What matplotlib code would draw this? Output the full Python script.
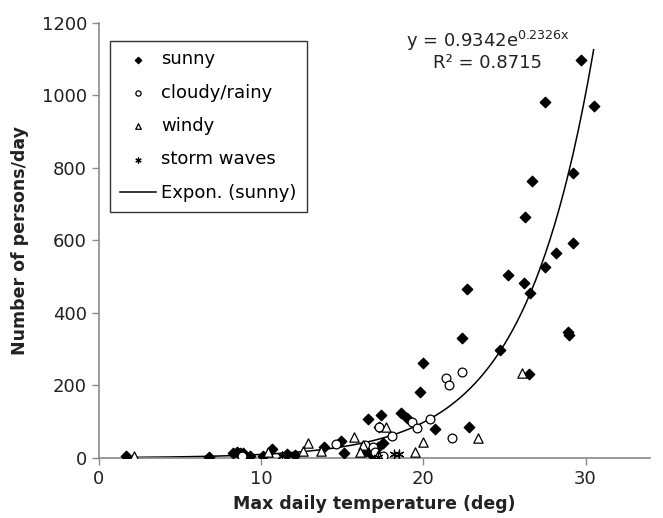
import numpy as np
import matplotlib
matplotlib.use("Agg")
import matplotlib.pyplot as plt

plt.rcParams['font.family'] = ['DejaVu Sans']
plt.rcParams['mathtext.fontset'] = 'dejavusans'

# sunny days
sunny_t = [1.7, 6.8, 8.3, 8.5, 8.7, 8.9, 9.3, 10.1, 10.7, 11.6, 12.1, 13.9, 14.9, 15.1,
           16.5, 16.8, 17.0, 17.2, 17.5, 16.6, 17.4, 17.3, 18.6, 19.0, 19.8, 20.0, 20.7,
           22.4, 22.7, 22.8, 24.7, 25.2, 26.2, 26.6, 26.3, 26.7, 26.5, 27.5, 28.2, 28.9,
           29.0, 29.2, 29.2, 27.5, 29.7, 30.5]
sunny_n = [5, 2, 14, 15, 14, 13, 5, 5, 25, 10, 8, 30, 46, 14,
           20, 10, 25, 30, 40, 107, 119, 85, 124, 110, 182, 262, 80,
           331, 466, 86, 298, 505, 483, 455, 665, 764, 232, 527, 566, 348,
           340, 593, 786, 982, 1098, 971]

# cloudy/rainy days
cloudy_t = [8.8, 14.6, 16.4, 16.9, 17.3, 18.1, 19.3, 19.6, 20.4, 21.4, 21.6, 22.4, 21.8, 17.0, 17.5]
cloudy_n = [5, 38, 36, 30, 85, 60, 100, 82, 107, 220, 200, 237, 55, 15, 5]

# windy days
windy_t = [2.2, 10.4, 11.3, 12.6, 12.9, 13.7, 15.7, 16.3, 17.7, 17.2, 19.5, 20.0, 23.4, 26.1, 16.1]
windy_n = [5, 17, 5, 20, 40, 20, 57, 36, 85, 8, 16, 45, 55, 234, 15]

# storm waves
storm_t = [11.3, 17.2, 18.2, 18.5]
storm_n = [5, 2, 10, 10]

fit_a = 0.9342
fit_b = 0.2326
fit_range = (1.7, 30.5)

fig = plt.figure(figsize=(6.63, 5.18), dpi=100)
ax = fig.add_axes([0.149, 0.116, 0.832, 0.84])

ax.scatter(sunny_t, sunny_n, marker='D', s=28, color='black', zorder=3, label='sunny')
ax.scatter(cloudy_t, cloudy_n, marker='o', s=40, facecolor='white', edgecolor='black',
           linewidth=0.9, zorder=3, label='cloudy/rainy')
ax.scatter(windy_t, windy_n, marker='^', s=45, facecolor='white', edgecolor='black',
           linewidth=0.9, zorder=3, label='windy')
ax.scatter(storm_t, storm_n, marker=(6, 2, 0), s=40, color='black', linewidth=0.9,
           zorder=3, label='storm waves')

xf = np.linspace(fit_range[0], fit_range[1], 300)
ax.plot(xf, fit_a * np.exp(fit_b * xf), color='black', lw=1.1, zorder=2, label='Expon. (sunny)')

ax.set_xlim(0, 34)
ax.set_ylim(0, 1200)
ax.set_xticks([0, 10, 20, 30])
ax.set_yticks(range(0, 1201, 200))

for side in ['top', 'right']:
    ax.spines[side].set_visible(False)
for side in ['left', 'bottom']:
    ax.spines[side].set_color('#8a8a8a')
    ax.spines[side].set_linewidth(1.2)
ax.tick_params(colors='#8a8a8a', labelcolor='#222222', labelsize=13, length=5, width=1)

ax.set_xlabel('Max daily temperature (deg)', fontsize=12.5, fontweight='bold', color='#222222',
              labelpad=5)
ax.set_ylabel('Number of persons/day', fontsize=12.5, fontweight='bold', color='#222222',
              labelpad=9)

leg = ax.legend(loc='upper left', bbox_to_anchor=(0.004, 0.98), fontsize=13,
                frameon=True, fancybox=False, edgecolor='black', labelspacing=0.85,
                handlelength=2.0, handletextpad=0.3, markerscale=0.6, borderpad=0.55)
leg.get_frame().set_linewidth(1.0)

ax.text(0.705, 0.985, r'y = 0.9342e$^{\mathrm{0.2326x}}$', transform=ax.transAxes, fontsize=13,
        ha='center', va='top', color='#222222')
ax.text(0.705, 0.928, 'R² = 0.8715', transform=ax.transAxes, fontsize=13,
        ha='center', va='top', color='#222222')

fig.savefig('out.png', dpi=100)
